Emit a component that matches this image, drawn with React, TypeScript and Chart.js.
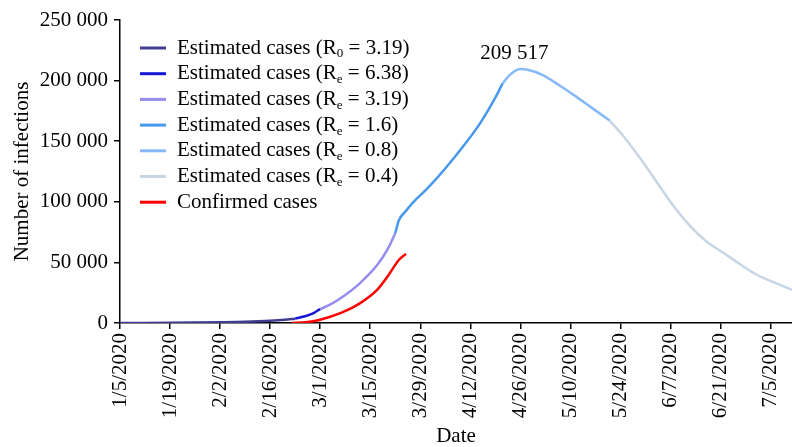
import { useEffect, useRef } from "react";
import { Chart, registerables } from "chart.js";

Chart.register(...registerables);

const FONT = "'Liberation Serif', 'Times New Roman', serif";

// X axis: days since 1/5/2020, tick every 14 days
const xTickLabels = [
  "1/5/2020", "1/19/2020", "2/2/2020", "2/16/2020", "3/1/2020", "3/15/2020", "3/29/2020",
  "4/12/2020", "4/26/2020", "5/10/2020", "5/24/2020", "6/7/2020", "6/21/2020", "7/5/2020",
];
const xTickStepDays = 14;
const xMaxDay = 188; // 7/11/2020

const yMax = 250000;
const yStep = 50000;

// Estimated cases (R0 = 3.19)
const r0Days = [0, 7, 14, 21, 28, 35, 42, 46, 49];
const r0Cases = [50, 100, 200, 350, 600, 1000, 1800, 2600, 3600];

// Estimated cases (Re = 6.38)
const re638Days = [49, 52, 54, 56];
const re638Cases = [3600, 5800, 8000, 11500];

// Estimated cases (Re = 3.19)
const re319Days = [56, 59, 62, 67, 72, 75, 77];
const re319Cases = [11500, 15500, 21000, 32500, 48000, 61500, 74000];

// Estimated cases (Re = 1.6)
const re16Days = [77, 78, 80, 82, 86, 91, 97, 101, 105, 107];
const re16Cases = [74000, 84500, 92500, 99500, 111000, 127500, 149500, 166000, 186000, 197500];

// Estimated cases (Re = 0.8)
const re08Days = [107, 109, 112, 114, 118, 123, 127, 132, 137];
const re08Cases = [197500, 204500, 209517, 209000, 205000, 196000, 188000, 177500, 167000];

// Estimated cases (Re = 0.4)
const re04Days = [137, 141, 146, 150, 155, 160, 164, 169, 174, 178, 183, 188];
const re04Cases = [167000, 153500, 134000, 117000, 96000, 78500, 67500, 57500, 47500, 40000, 33500, 27400];

// Confirmed cases
const confDays = [48, 52, 56, 62, 67, 72, 75, 78, 80];
const confCases = [0, 600, 2700, 8500, 16000, 27500, 39000, 52000, 57000];

const peakDay = 112;
const peakValue = 209517;

const seriesList = [
  { label: "Estimated cases (R", sub: "0", rest: " = 3.19)", days: r0Days, values: r0Cases, color: "rgb(64,60,145)" },
  { label: "Estimated cases (R", sub: "e", rest: " = 6.38)", days: re638Days, values: re638Cases, color: "rgb(22,22,215)" },
  { label: "Estimated cases (R", sub: "e", rest: " = 3.19)", days: re319Days, values: re319Cases, color: "rgb(150,140,240)" },
  { label: "Estimated cases (R", sub: "e", rest: " = 1.6)", days: re16Days, values: re16Cases, color: "rgb(72,152,235)" },
  { label: "Estimated cases (R", sub: "e", rest: " = 0.8)", days: re08Days, values: re08Cases, color: "rgb(135,185,250)" },
  { label: "Estimated cases (R", sub: "e", rest: " = 0.4)", days: re04Days, values: re04Cases, color: "rgb(200,214,228)" },
  { label: "Confirmed cases", sub: "", rest: "", days: confDays, values: confCases, color: "rgb(255,0,0)" },
];

const fmt = (v: number) => String(v).replace(/\B(?=(\d{3})+(?!\d))/g, " ");

const legendPlugin = {
  id: "customLegend",
  afterDraw(chart: any) {
    const { ctx, chartArea } = chart;
    ctx.save();
    const x0 = chartArea.left + 20;
    const lineLen = 26;
    const textX = x0 + 37;
    const y0 = chartArea.top + 28;
    const dy = 25.7;
    seriesList.forEach((s, i) => {
      const y = y0 + i * dy;
      ctx.strokeStyle = s.color;
      ctx.lineWidth = 3;
      ctx.beginPath();
      ctx.moveTo(x0, y);
      ctx.lineTo(x0 + lineLen, y);
      ctx.stroke();
      ctx.fillStyle = "#000";
      ctx.textBaseline = "middle";
      ctx.textAlign = "left";
      ctx.font = `21px ${FONT}`;
      let x = textX;
      ctx.fillText(s.label, x, y);
      x += ctx.measureText(s.label).width;
      if (s.sub) {
        ctx.font = `13px ${FONT}`;
        ctx.fillText(s.sub, x, y + 6);
        x += ctx.measureText(s.sub).width;
        ctx.font = `21px ${FONT}`;
        ctx.fillText(s.rest, x, y);
      }
    });
    ctx.restore();
  },
};

const peakLabelPlugin = {
  id: "peakLabel",
  afterDatasetsDraw(chart: any) {
    const { ctx, scales } = chart;
    const px = scales.x.getPixelForValue(peakDay);
    const py = scales.y.getPixelForValue(peakValue);
    ctx.save();
    ctx.fillStyle = "#000";
    ctx.font = `21px ${FONT}`;
    ctx.textAlign = "center";
    ctx.textBaseline = "middle";
    ctx.fillText(fmt(peakValue), px - 6, py - 16);
    ctx.restore();
  },
};

export default function App() {
  const canvasRef = useRef<HTMLCanvasElement | null>(null);

  useEffect(() => {
    document.body.style.margin = "0";
    const canvas = canvasRef.current;
    if (!canvas) return;
    const chart = new Chart(canvas, {
      type: "line",
      data: {
        datasets: seriesList.map((s) => ({
          label: s.label + s.sub + s.rest,
          data: s.days.map((d, i) => ({ x: d, y: s.values[i] })),
          borderColor: s.color,
          backgroundColor: s.color,
          borderWidth: 2.5,
          pointRadius: 0,
          cubicInterpolationMode: "monotone" as const,
          fill: false,
        })),
      },
      options: {
        responsive: false,
        animation: false,
        layout: { padding: { top: 20, right: 0, left: 0, bottom: 0 } },
        plugins: {
          legend: { display: false },
          tooltip: { enabled: false },
        },
        scales: {
          x: {
            type: "linear",
            min: 0,
            max: xMaxDay,
            afterBuildTicks: (scale: any) => {
              scale.ticks = xTickLabels.map((_, i) => ({ value: i * xTickStepDays }));
            },
            afterFit: (scale: any) => {
              scale.height = 124;
              scale.paddingLeft = 0;
              scale.paddingRight = 0;
            },
            ticks: {
              autoSkip: false,
              maxRotation: 90,
              minRotation: 90,
              padding: 4,
              color: "#000",
              font: { family: FONT, size: 21 },
              callback: (v: any) => {
                const idx = Math.round(Number(v) / xTickStepDays);
                return xTickLabels[idx] ?? "";
              },
            },
            grid: {
              display: true,
              drawOnChartArea: false,
              drawTicks: true,
              tickLength: 6,
              color: "#000",
              lineWidth: 1.5,
            },
            border: { display: true, color: "#000", width: 1.5 },
            title: {
              display: true,
              text: "Date",
              color: "#000",
              font: { family: FONT, size: 21, lineHeight: 1 },
              padding: { top: 0, bottom: 0 },
            },
          },
          y: {
            type: "linear",
            min: 0,
            max: yMax,
            afterFit: (scale: any) => {
              scale.width = 120;
              scale.paddingTop = 0;
              scale.paddingBottom = 0;
            },
            ticks: {
              stepSize: yStep,
              padding: 6,
              color: "#000",
              font: { family: FONT, size: 21 },
              callback: (v: any) => fmt(Number(v)),
            },
            grid: {
              display: true,
              drawOnChartArea: false,
              drawTicks: true,
              tickLength: 6,
              color: "#000",
              lineWidth: 1.5,
            },
            border: { display: true, color: "#000", width: 1.5 },
            title: {
              display: true,
              text: "Number of infections",
              color: "#000",
              font: { family: FONT, size: 21 },
              padding: { top: 10, bottom: 0 },
            },
          },
        },
      },
      plugins: [legendPlugin, peakLabelPlugin],
    });
    return () => chart.destroy();
  }, []);

  return (
    <div style={{ width: 792, height: 447 }}>
      <canvas ref={canvasRef} width={792} height={447} style={{ display: "block" }} />
    </div>
  );
}
